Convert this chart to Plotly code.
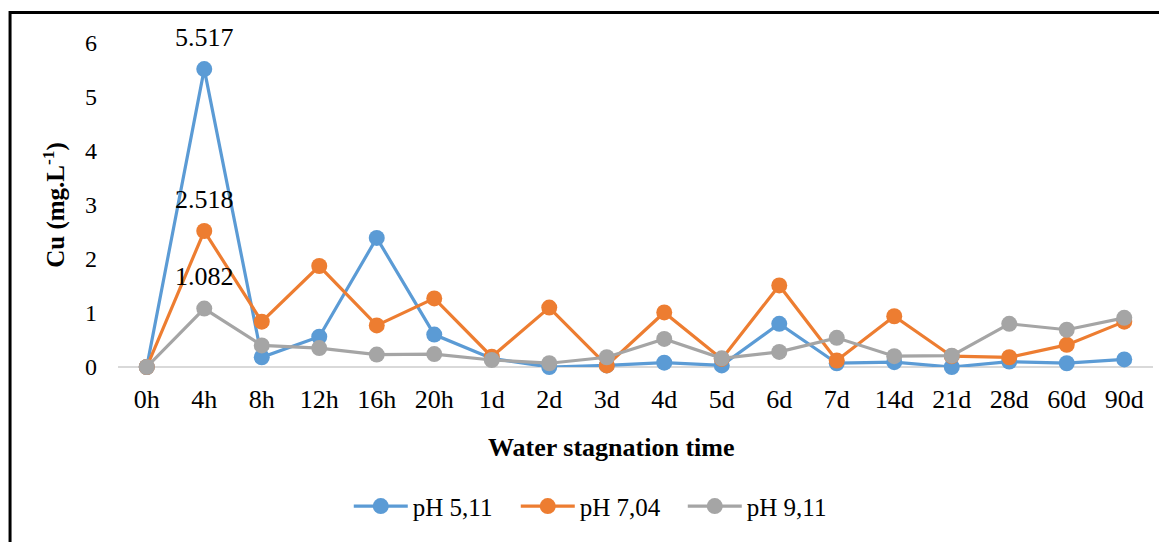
import plotly.graph_objects as go

# stagnation times (x categories)
times = ["0h", "4h", "8h", "12h", "16h", "20h", "1d", "2d", "3d", "4d",
         "5d", "6d", "7d", "14d", "21d", "28d", "60d", "90d"]

# Cu concentration (mg/L) for each pH
cu_ph511 = [0, 5.517, 0.18, 0.56, 2.39, 0.60, 0.16, 0.0, 0.03, 0.08,
            0.03, 0.80, 0.07, 0.09, 0.0, 0.10, 0.07, 0.14]
cu_ph704 = [0, 2.518, 0.84, 1.87, 0.77, 1.27, 0.19, 1.10, 0.03, 1.01,
            0.15, 1.51, 0.12, 0.94, 0.20, 0.18, 0.41, 0.84]
cu_ph911 = [0, 1.082, 0.40, 0.35, 0.23, 0.24, 0.13, 0.07, 0.18, 0.52,
            0.16, 0.28, 0.54, 0.20, 0.21, 0.80, 0.69, 0.91]

series = [
    ("pH 5,11", cu_ph511, "#5b9bd5"),
    ("pH 7,04", cu_ph704, "#ed7d31"),
    ("pH 9,11", cu_ph911, "#a5a5a5"),
]

PEAK = 1  # index of the 4h point, the only one that carries a data label
FONT = "Liberation Serif"

fig = go.Figure()
for name, vals, color in series:
    fig.add_trace(go.Scatter(
        x=times, y=vals, name=name, mode="lines+markers",
        line=dict(color=color, width=3.2),
        marker=dict(color=color, size=16),
        cliponaxis=False,
    ))
    fig.add_annotation(
        x=times[PEAK], y=vals[PEAK], text=f"{vals[PEAK]:.3f}",
        showarrow=False, yshift=32,
        font=dict(family=FONT, size=26, color="black"),
    )

# axis titles placed as annotations so they sit where the source puts them
fig.add_annotation(
    xref="paper", yref="paper", x=0.477, y=-0.249,
    text="<b>Water stagnation time</b>", showarrow=False,
    xanchor="center", yanchor="middle",
    font=dict(family=FONT, size=26, color="black"),
)
fig.add_annotation(
    xref="paper", yref="paper", x=-0.062, y=0.5,
    text="<b>Cu (mg.L<sup>-1</sup>)</b>", showarrow=False, textangle=-90,
    xanchor="center", yanchor="middle",
    font=dict(family=FONT, size=25, color="black"),
)

# the page body adds an 8px margin, so the figure is 8px smaller
# and its margins 8px tighter to keep the plot area in place
fig.update_layout(
    width=1159, height=534,
    margin=dict(l=110, r=14, t=35, b=170),
    paper_bgcolor="white", plot_bgcolor="white",
    font=dict(family=FONT, size=25, color="black"),
    showlegend=True,
    legend=dict(
        orientation="h", x=0.465, xanchor="center",
        y=-0.43, yanchor="middle",
        itemwidth=54, entrywidth=98, tracegroupgap=0,
        font=dict(family=FONT, size=25),
    ),
    xaxis=dict(
        range=[-0.5, len(times) - 0.5],
        showgrid=False, showline=False, zeroline=False, automargin=False,
        ticks="", ticklabelstandoff=14,
        tickfont=dict(family=FONT, size=26),
    ),
    yaxis=dict(
        range=[0, 6], dtick=1, showgrid=False, showline=False,
        zeroline=True, zerolinecolor="#d9d9d9", zerolinewidth=2,
        automargin=False, ticks="", ticklabelstandoff=20,
        tickfont=dict(family=FONT, size=24),
    ),
)

# outer chart frame, runs past the right and bottom edges like the source
fig.add_shape(type="rect", xref="paper", yref="paper",
              x0=-0.1043, x1=1.05, y0=-0.6, y1=1.094,
              line=dict(color="black", width=3), fillcolor="rgba(0,0,0,0)")

fig.write_html("out.html")
